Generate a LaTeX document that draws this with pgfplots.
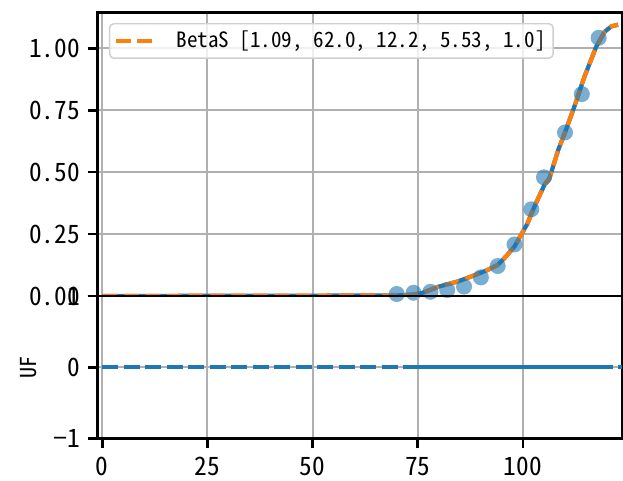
\documentclass[border=0pt]{standalone}
\usepackage{fontspec}
\setmainfont{Noto Sans CJK SC}[RawFeature=+hwid]
\usepackage{pgfplots}
\pgfplotsset{compat=1.18}
\definecolor{cblue}{HTML}{1F77B4}
\definecolor{corange}{HTML}{FF7F0E}
\definecolor{cgrid}{HTML}{B0B0B0}
\begin{document}
\begin{tikzpicture}[x=1cm,y=1cm]
\useasboundingbox (0,0) rectangle (12.46,9.6);
\pgfplotsset{
  every axis/.append style={
    scale only axis,
    width=10.49cm,
    xmin=-1.1, xmax=123.6,
    axis line style={line width=0.054cm, black},
    every tick/.style={line width=0.054cm, black},
    major tick length=0.2cm,
    tick align=outside,
    xtick pos=bottom, ytick pos=left,
    grid=major,
    major grid style={line width=0.04cm, cgrid},
    xtick={0,25,50,75,100},
    yticklabel style={font=\fontsize{14.4}{14.4}\selectfont, anchor=east, inner sep=0pt, xshift=-0.15cm},
    xticklabel style={font=\fontsize{14.4}{14.4}\selectfont, anchor=north, inner sep=0pt, yshift=-0.17cm},
  }
}
% top axis
\begin{axis}[at={(1.954cm,3.68cm)}, anchor=south west, height=5.674cm,
  ymin=0, ymax=1.145,
  xticklabels={},
  xtick style={draw=none},
  ytick={0,0.25,0.5,0.75,1}, yticklabels={0.00,0.25,0.50,0.75,1.00},
  legend style={at={(0,1)}, anchor=north west, xshift=0.226cm, yshift=-0.214cm,
    draw=cgrid!60, line width=0.03cm, rounded corners=0.08cm, fill=white,
    fill opacity=0.8, text opacity=1, font=\fontsize{12}{12}\selectfont,
    inner xsep=0.08cm, inner ysep=0.08cm},
  legend cell align=left,
  legend image code/.code={\draw[#1] (0cm,0cm) -- (0.86cm,0cm);},
]
\addplot[cblue, only marks, mark=*, mark size=0.16cm, mark options={draw=none, fill=cblue, fill opacity=0.6, draw opacity=0}, forget plot]
  coordinates {(70,0.008)(74,0.013)(78,0.017)(82,0.024)(86,0.038)(90,0.075)(94,0.121)(98,0.208)(102,0.35)(105,0.479)(110,0.66)(114,0.815)(118,1.042)};
\addplot[cblue, line width=0.085cm, forget plot]
  coordinates {(0,0.0)(70,0.002)(74,0.006)(76,0.012)(78,0.025)(80,0.038)(82,0.047)(84.4,0.058)(87.6,0.078)(91.6,0.105)(94,0.125)(96,0.16)(98,0.2)(99.5,0.245)(101,0.29)(102.7,0.36)(105.1,0.448)(106.3,0.475)(108.4,0.59)(110,0.66)(112.2,0.763)(114.6,0.884)(117.4,1.005)(119.4,1.066)(121,1.088)(122.6,1.095)};
\addplot[corange, line width=0.085cm, dash pattern=on 0.3cm off 0.13cm]
  coordinates {(0,0.0)(70,0.002)(74,0.006)(76,0.012)(78,0.025)(80,0.038)(82,0.047)(84.4,0.058)(87.6,0.078)(91.6,0.105)(94,0.125)(96,0.16)(98,0.2)(99.5,0.245)(101,0.29)(102.7,0.36)(105.1,0.448)(106.3,0.475)(108.4,0.59)(110,0.66)(112.2,0.763)(114.6,0.884)(117.4,1.005)(119.4,1.066)(121,1.088)(122.6,1.095)};
\addlegendentry{\hspace{0.24cm}BetaS [1.09, 62.0, 12.2, 5.53, 1.0]}
\end{axis}
% bottom axis
\begin{axis}[at={(1.954cm,0.834cm)}, anchor=south west, height=2.846cm,
  ymin=-1, ymax=1,
  ytick={-1,0,1}, yticklabels={−1,0,1},
  xticklabels={0,25,50,75,100},
  ylabel={UF},
  ylabel style={at={(axis description cs:-0.131,0.5)}, anchor=center, font=\fontsize{12.5}{12.5}\selectfont},
]
\addplot[cblue, line width=0.08cm, dash pattern=on 0.32cm off 0.11cm]
  coordinates {(0,0)(123.6,0)};
\addplot[cblue, line width=0.08cm]
  coordinates {(75,0)(118,0)};
\end{axis}
\end{tikzpicture}
\end{document}
